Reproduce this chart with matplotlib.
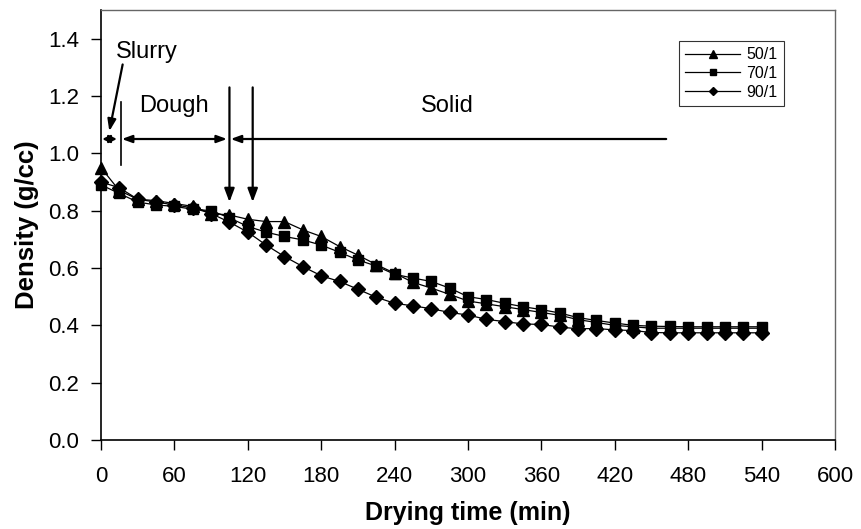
import numpy as np
import matplotlib
matplotlib.use("Agg")
import matplotlib.pyplot as plt

plt.rcParams['font.family'] = ['Liberation Sans', 'DejaVu Sans']

# drying time (min), one reading every 15 min
time_min = list(range(0, 541, 15))

dens_50 = [0.95, 0.87, 0.84, 0.835, 0.825, 0.815, 0.79, 0.785, 0.77, 0.762,
           0.762, 0.733, 0.71, 0.675, 0.645, 0.612, 0.582, 0.55, 0.53, 0.508,
           0.485, 0.475, 0.465, 0.455, 0.445, 0.435, 0.42, 0.41, 0.40, 0.395,
           0.39, 0.39, 0.39, 0.39, 0.39, 0.39, 0.39]
dens_70 = [0.89, 0.86, 0.83, 0.82, 0.815, 0.805, 0.80, 0.775, 0.745, 0.725,
           0.71, 0.698, 0.68, 0.655, 0.628, 0.607, 0.578, 0.565, 0.553, 0.53,
           0.50, 0.49, 0.477, 0.465, 0.455, 0.443, 0.427, 0.417, 0.408, 0.40,
           0.397, 0.396, 0.395, 0.395, 0.395, 0.395, 0.395]
dens_90 = [0.90, 0.88, 0.84, 0.83, 0.82, 0.81, 0.79, 0.76, 0.725, 0.68,
           0.64, 0.605, 0.573, 0.553, 0.526, 0.498, 0.477, 0.468, 0.458, 0.445,
           0.436, 0.421, 0.413, 0.405, 0.403, 0.394, 0.388, 0.389, 0.384, 0.382,
           0.375, 0.374, 0.374, 0.374, 0.374, 0.374, 0.374]

labels = ['50/1', '70/1', '90/1']
markers = ['^', 's', 'D']
msizes = [9, 7.5, 7]

# phase boundaries (min) and band level
slurry_end = 16
dough_end = 105
solid_start = 124
solid_line_end = 462
band_y = 1.05

fig = plt.figure(figsize=(8.61, 5.29), dpi=100)
ax = fig.add_axes([0.1173, 0.1682, 0.8525, 0.8129])

for d, lab, mk, ms in zip([dens_50, dens_70, dens_90], labels, markers, msizes):
    ax.plot(time_min, d, color='black', lw=0.9, marker=mk, ms=ms,
            label=lab, clip_on=False, zorder=3)

ax.set_xlim(0, 600)
ax.set_ylim(0, 1.5)
ax.set_xticks(np.arange(0, 601, 60))
ax.set_yticks(np.arange(0, 1.41, 0.2))
ax.set_yticklabels(['%.1f' % v for v in np.arange(0, 1.41, 0.2)])
ax.tick_params(direction='out', length=7, width=1, labelsize=16, pad=9)
ax.tick_params(axis='x', pad=12)
for s in ['top', 'right']:
    ax.spines[s].set_color('#666666')
    ax.spines[s].set_linewidth(1)
for s in ['left', 'bottom']:
    ax.spines[s].set_linewidth(1.2)

ax.set_xlabel('Drying time (min)', fontsize=18, fontweight='bold', labelpad=10)
ax.set_ylabel('Density (g/cc)', fontsize=18.5, fontweight='bold', labelpad=6)

# phase annotations
head = dict(color='black', lw=1.6, shrinkA=0, shrinkB=0)
ax.annotate('', xy=(1, band_y), xytext=(slurry_end - 3, band_y),
            arrowprops=dict(arrowstyle='<|-|>,head_length=0.45,head_width=0.22', **head))
ax.annotate('', xy=(slurry_end + 1, band_y), xytext=(dough_end - 2, band_y),
            arrowprops=dict(arrowstyle='<|-|>,head_length=0.6,head_width=0.22', **head))
ax.annotate('', xy=(dough_end + 1, band_y), xytext=(solid_line_end, band_y),
            arrowprops=dict(arrowstyle='-|>,head_length=0.6,head_width=0.22', **head))
ax.plot([slurry_end, slurry_end], [0.96, 1.18], color='black', lw=1.2)
ax.annotate('', xy=(dough_end, 0.83), xytext=(dough_end, 1.23),
            arrowprops=dict(arrowstyle='-|>,head_length=0.8,head_width=0.3', **head))
ax.annotate('', xy=(solid_start, 0.83), xytext=(solid_start, 1.23),
            arrowprops=dict(arrowstyle='-|>,head_length=0.8,head_width=0.3', **head))
ax.annotate('', xy=(6.8, 1.077), xytext=(17.7, 1.31),
            arrowprops=dict(arrowstyle='-|>,head_length=0.7,head_width=0.25', **head))

ax.text(12.5, 1.355, 'Slurry', fontsize=17, va='center', ha='left')
ax.text(60, 1.165, 'Dough', fontsize=17, va='center', ha='center')
ax.text(283, 1.165, 'Solid', fontsize=17, va='center', ha='center')

leg = ax.legend(loc='upper left', bbox_to_anchor=(0.7875, 0.9286), fontsize=11.5,
                frameon=True, fancybox=False, edgecolor='black', handlelength=3.4,
                markerscale=0.65, labelspacing=0.25, borderpad=0.4,
                handletextpad=0.4, borderaxespad=0)
leg.get_frame().set_linewidth(0.8)

fig.savefig('out.png', dpi=100)
